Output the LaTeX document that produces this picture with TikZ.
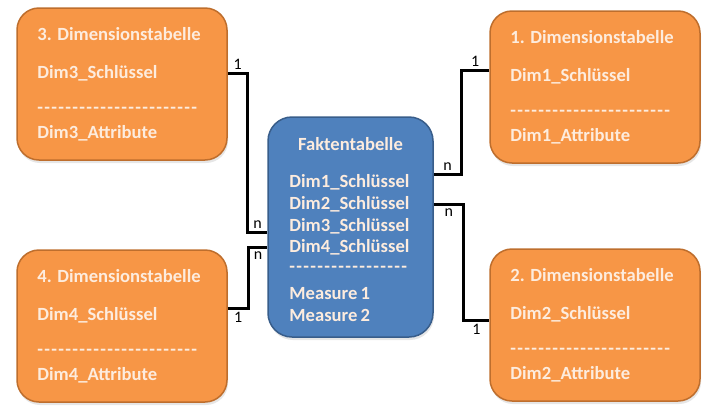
\documentclass[tikz,border=0pt]{standalone}
\usepackage{fontspec}
\setmainfont{Carlito}
\usetikzlibrary{shadows}
\definecolor{dimorange}{RGB}{247,150,70}
\definecolor{dimborder}{RGB}{190,110,45}
\definecolor{faktblue}{RGB}{79,129,189}
\definecolor{faktborder}{RGB}{56,93,138}
\definecolor{boxtext}{RGB}{253,236,222}
\tikzset{
  dimbox/.style={draw=dimborder,line width=1.5pt,fill=dimorange,rounded corners=22pt,
    minimum width=210pt,minimum height=152pt,drop shadow={opacity=0.2,shadow xshift=1pt,shadow yshift=-3pt}},
  faktbox/.style={draw=faktborder,line width=1.5pt,fill=faktblue,rounded corners=24pt,
    minimum width=165pt,minimum height=220pt,drop shadow={opacity=0.2,shadow xshift=1pt,shadow yshift=-3pt}},
  rowtext/.style={anchor=west,inner sep=0pt,text=boxtext,font=\bfseries\fontsize{18.6}{20}\selectfont},
  link/.style={line width=3pt,black},
  card/.style={font=\fontsize{16}{18}\selectfont,inner sep=2.5pt}
}
\newcommand{\dashrow}[1]{\foreach \k in {1,...,#1}{-\kern1.3pt}}
\begin{document}
\begin{tikzpicture}[x=1pt,y=-1pt]
\useasboundingbox (0,0) rectangle (716,418);
% the four dimension tables
\foreach \n/\cx/\cy in {3/122/84, 1/595/87, 4/122/326, 2/595/325}{
  \node[dimbox] (dim\n) at (\cx,\cy) {};
  \node[rowtext] (d\n title) at ([xshift=21pt,yshift=-27pt]dim\n.north west) {\n. Dimensionstabelle};
  \node[rowtext] (d\n key) at ([xshift=21pt,yshift=-66pt]dim\n.north west) {Dim\n\_Schlüssel};
  \node[rowtext] (d\n dash) at ([xshift=21pt,yshift=-103pt]dim\n.north west) {\dashrow{23}};
  \node[rowtext] (d\n attr) at ([xshift=21pt,yshift=-126pt]dim\n.north west) {Dim\n\_Attribute};
}
% fact table
\node[faktbox] (fakt) at (350.5,227) {};
\node[rowtext,anchor=center] (ftitle) at ([yshift=-28pt]fakt.north) {Faktentabelle};
\foreach \n/\dy in {1/66, 2/88, 3/110, 4/131}
  \node[rowtext] (f\n) at ([xshift=22pt,yshift=-\dy pt]fakt.north west) {Dim\n\_Schlüssel};
\node[rowtext] (fdash) at ([xshift=22pt,yshift=-153pt]fakt.north west) {\dashrow{17}};
\node[rowtext] (fm1) at ([xshift=22pt,yshift=-177pt]fakt.north west) {Measure\,1};
\node[rowtext] (fm2) at ([xshift=22pt,yshift=-199pt]fakt.north west) {Measure\,2};
% relations 1:n
\draw[link] (d3key.west -| dim3.east) -- node[card,above]{1} ++(20,0)
  |- node[card,above,pos=0.75]{n} ([yshift=-6pt]f3.west -| fakt.west);
\draw[link] ([yshift=7pt]d4key.west -| dim4.east) -- node[card,below]{1} ++(21,0)
  |- node[card,below,pos=0.75]{n} (f4.west -| fakt.west);
\draw[link] ([yshift=6pt]d1key.west -| dim1.west) -- node[card,above]{1} ++(-28,0)
  |- node[card,above,pos=0.75]{n} ([yshift=8pt]f1.west -| fakt.east);
\draw[link] (f2.west -| fakt.east) -- node[card,below]{n} ++(30,0)
  |- node[card,below,pos=0.75]{1} ([yshift=-6pt]d2key.west -| dim2.west);
\end{tikzpicture}
\end{document}
